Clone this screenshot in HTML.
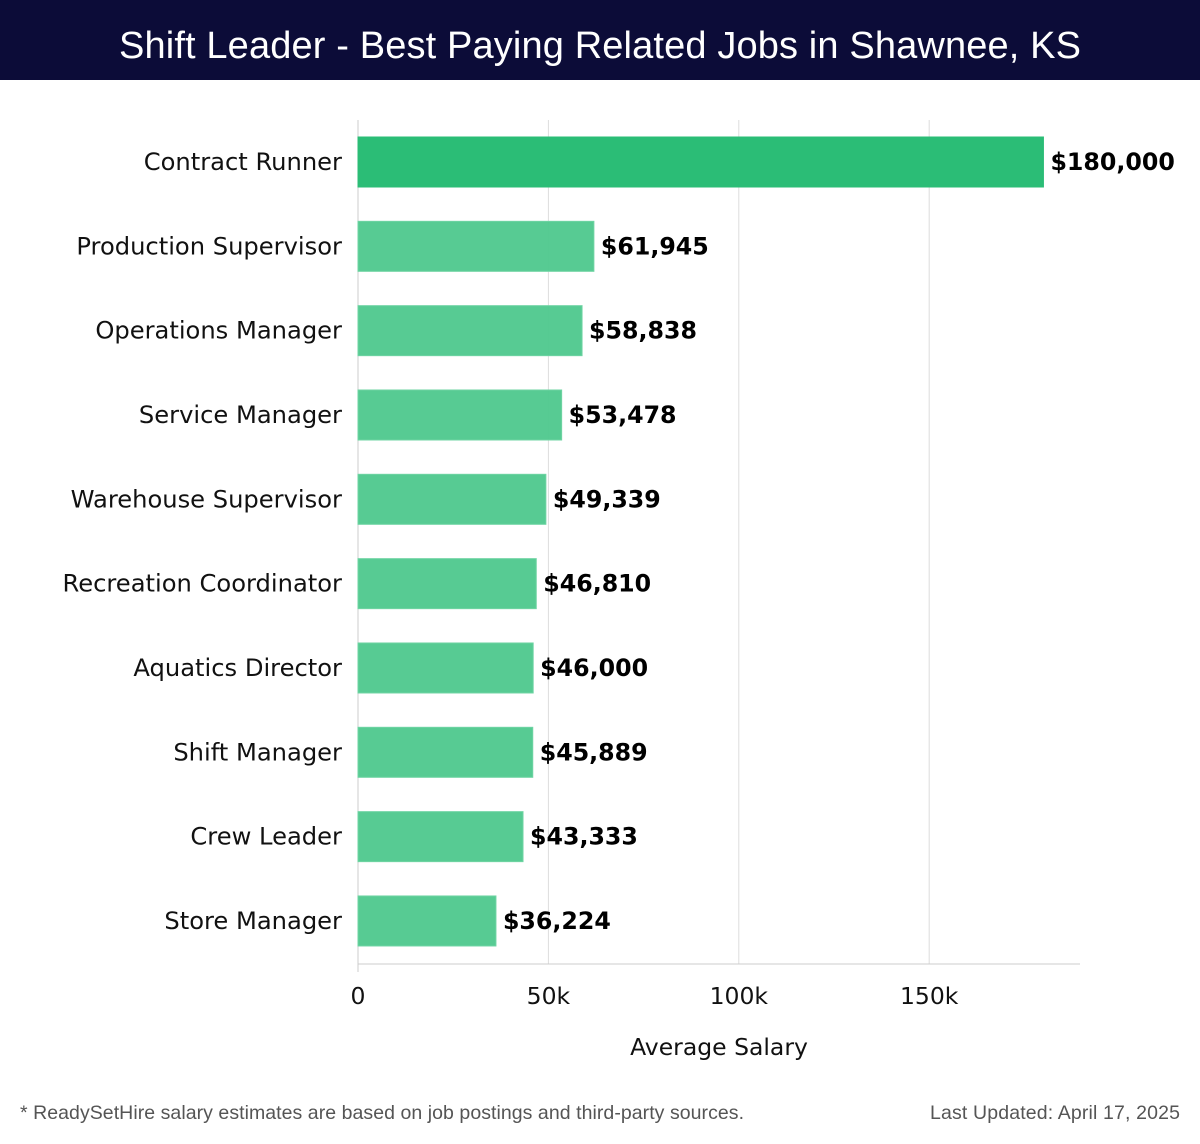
<!DOCTYPE html>
<html><head><meta charset="utf-8"><style>
body{margin:0;width:1200px;height:1140px;background:#fff;font-family:"DejaVu Sans","Liberation Sans",sans-serif;overflow:hidden}
</style></head><body>
<svg id="chart" width="1200" height="1140" xmlns="http://www.w3.org/2000/svg">
<rect x="0" y="0" width="1200" height="80" fill="#0c0c38"/>
<text x="600" y="58" text-anchor="middle" fill="#fff" font-family="Liberation Sans, sans-serif" font-size="38" textLength="962">Shift Leader - Best Paying Related Jobs in Shawnee, KS</text>
<g id="grid"></g><g id="bars"></g><g id="labels"></g>
<text x="719" y="1055" text-anchor="middle" font-size="23.5" fill="#111">Average Salary</text>
<text x="20" y="1119" font-family="Liberation Sans, sans-serif" font-size="19.5" fill="#555" textLength="724">* ReadySetHire salary estimates are based on job postings and third-party sources.</text>
<text x="930" y="1119" font-family="Liberation Sans, sans-serif" font-size="19.5" fill="#555" textLength="250">Last Updated: April 17, 2025</text>
</svg>
<script>
const categories=["Contract Runner","Production Supervisor","Operations Manager","Service Manager","Warehouse Supervisor","Recreation Coordinator","Aquatics Director","Shift Manager","Crew Leader","Store Manager"];
const salaries=[180000,61945,58838,53478,49339,46810,46000,45889,43333,36224];
const tickValues=[0,50000,100000,150000];
const tickLabels=["0","50k","100k","150k"];
const NS="http://www.w3.org/2000/svg";
const x0=358,pxPer=190.4/50000,plotTop=120,plotBottom=964,plotRight=1080;
const xs=v=>x0+v*pxPer;
const yc=i=>162+i*84.33;
function mk(tag,attrs,parent,text){const e=document.createElementNS(NS,tag);for(const k in attrs)e.setAttribute(k,attrs[k]);if(text!==undefined)e.textContent=text;parent.appendChild(e);return e;}
const grid=document.getElementById('grid'),bars=document.getElementById('bars'),labels=document.getElementById('labels');
tickValues.forEach((v,i)=>{
  const l=mk('line',{x1:xs(v),x2:xs(v),y1:plotTop,y2:i==0?plotBottom+8:plotBottom,stroke:i==0?'#ccc':'#ddd','stroke-width':1},grid);
  
  
  const t=mk('text',{x:xs(v),y:1004,'text-anchor':'middle','font-size':23.5,fill:'#111'},grid,tickLabels[i]);
  
  
});
const ax=mk('line',{x1:x0,x2:plotRight,y1:plotBottom,y2:plotBottom,stroke:'#ccc','stroke-width':1},grid);


categories.forEach((c,i)=>{
  const y=yc(i);
  const r=mk('rect',{x:x0,y:y-25,width:xs(salaries[i])-x0,height:50,fill:i==0?'#2bbd76':'#52c98f','fill-opacity':i==0?1:0.97,stroke:i==0?'#2bbd76':'#6fd4a3','stroke-width':1},bars);
  
  
  const cl=mk('text',{x:342,y:y+8,'text-anchor':'end','font-size':24.2,fill:'#111'},labels,c);
  
  
  const vl=mk('text',{x:xs(salaries[i])+7,y:y+8,'font-size':23.7,'font-weight':'bold',fill:'#000'},labels,'$'+salaries[i].toLocaleString('en-US'));
  
  
});
</script>
</body></html>
